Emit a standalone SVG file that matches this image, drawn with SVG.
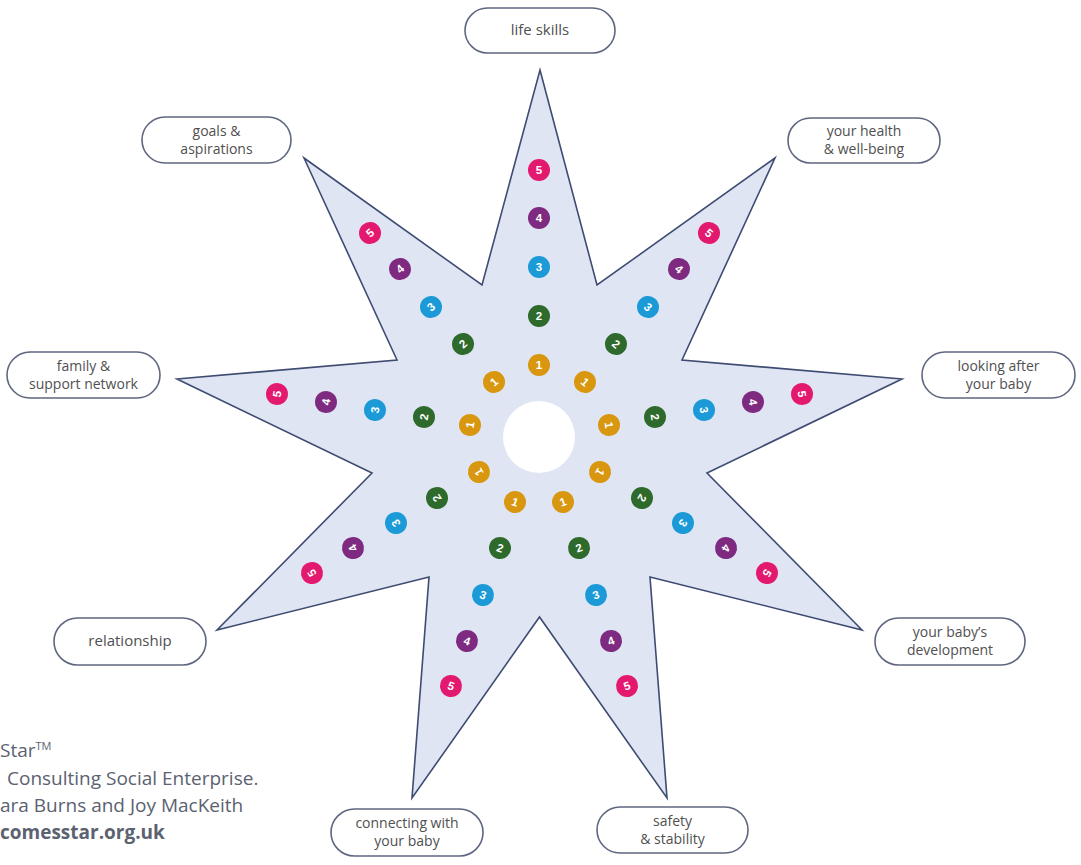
<svg xmlns="http://www.w3.org/2000/svg" width="1081" height="865" viewBox="0 0 1081 865">
<style>
.star{fill:#dfe5f3;stroke:#3e4c72;stroke-width:1.6;stroke-linejoin:miter}
.box{fill:#ffffff;stroke:#5f6680;stroke-width:1.6}
.lbl{font-family:"Open Sans","Liberation Sans",sans-serif;font-size:14px;fill:#505050;text-anchor:middle}
.one{font-size:15px}
.num{font-family:"Liberation Sans","DejaVu Sans",sans-serif;font-size:11.5px;font-weight:bold;fill:#ffffff;text-anchor:middle}
.c1{fill:#d8970f}.c2{fill:#2e6a2c}.c3{fill:#1b9ad7}.c4{fill:#7d2a80}.c5{fill:#e3196f}
.foot{font-family:"Open Sans","Liberation Sans",sans-serif;font-size:19px;fill:#5b6270}
</style>
<rect width="1081" height="865" fill="#ffffff"/>
<g id="star">
<polygon class="star" points="540,70 597,285 775,158 682,360 902,379 707,473 862,630 650,577 667,798 539.5,617 412,798 429,577 217,630 372,473 177,379 397,360 304,158 482,285"/>
<circle cx="539" cy="437" r="36" fill="#ffffff"/>
</g>
<g id="scale-points">
<g id="arm-life-skills">
<g transform="translate(539,365)"><circle class="c1" r="11"/><text class="num" y="4">1</text></g>
<g transform="translate(539,316)"><circle class="c2" r="11"/><text class="num" y="4">2</text></g>
<g transform="translate(539,267)"><circle class="c3" r="11"/><text class="num" y="4">3</text></g>
<g transform="translate(539,218)"><circle class="c4" r="11"/><text class="num" y="4">4</text></g>
<g transform="translate(539,170)"><circle class="c5" r="11"/><text class="num" y="4">5</text></g>
</g>
<g id="arm-health">
<g transform="translate(585,382) rotate(41)"><circle class="c1" r="11"/><text class="num" y="4">1</text></g>
<g transform="translate(616,344) rotate(41)"><circle class="c2" r="11"/><text class="num" y="4">2</text></g>
<g transform="translate(648,307) rotate(41)"><circle class="c3" r="11"/><text class="num" y="4">3</text></g>
<g transform="translate(679,269) rotate(41)"><circle class="c4" r="11"/><text class="num" y="4">4</text></g>
<g transform="translate(709,233) rotate(41)"><circle class="c5" r="11"/><text class="num" y="4">5</text></g>
</g>
<g id="arm-looking-after">
<g transform="translate(609,425) rotate(81)"><circle class="c1" r="11"/><text class="num" y="4">1</text></g>
<g transform="translate(655,417) rotate(81)"><circle class="c2" r="11"/><text class="num" y="4">2</text></g>
<g transform="translate(704,410) rotate(81)"><circle class="c3" r="11"/><text class="num" y="4">3</text></g>
<g transform="translate(753,402) rotate(81)"><circle class="c4" r="11"/><text class="num" y="4">4</text></g>
<g transform="translate(802,394) rotate(81)"><circle class="c5" r="11"/><text class="num" y="4">5</text></g>
</g>
<g id="arm-development">
<g transform="translate(600,472) rotate(121)"><circle class="c1" r="11"/><text class="num" y="4">1</text></g>
<g transform="translate(642,498) rotate(121)"><circle class="c2" r="11"/><text class="num" y="4">2</text></g>
<g transform="translate(683,523) rotate(121)"><circle class="c3" r="11"/><text class="num" y="4">3</text></g>
<g transform="translate(726,548) rotate(121)"><circle class="c4" r="11"/><text class="num" y="4">4</text></g>
<g transform="translate(767,573) rotate(121)"><circle class="c5" r="11"/><text class="num" y="4">5</text></g>
</g>
<g id="arm-safety">
<g transform="translate(563,502) rotate(-19)"><circle class="c1" r="11"/><text class="num" y="4">1</text></g>
<g transform="translate(579,548) rotate(-19)"><circle class="c2" r="11"/><text class="num" y="4">2</text></g>
<g transform="translate(596,595) rotate(-19)"><circle class="c3" r="11"/><text class="num" y="4">3</text></g>
<g transform="translate(611,641) rotate(-19)"><circle class="c4" r="11"/><text class="num" y="4">4</text></g>
<g transform="translate(627,686) rotate(-19)"><circle class="c5" r="11"/><text class="num" y="4">5</text></g>
</g>
<g id="arm-connecting">
<g transform="translate(515,502) rotate(19)"><circle class="c1" r="11"/><text class="num" y="4">1</text></g>
<g transform="translate(500,548) rotate(19)"><circle class="c2" r="11"/><text class="num" y="4">2</text></g>
<g transform="translate(483,595) rotate(19)"><circle class="c3" r="11"/><text class="num" y="4">3</text></g>
<g transform="translate(467,641) rotate(19)"><circle class="c4" r="11"/><text class="num" y="4">4</text></g>
<g transform="translate(451,686) rotate(19)"><circle class="c5" r="11"/><text class="num" y="4">5</text></g>
</g>
<g id="arm-relationship">
<g transform="translate(479,472) rotate(-121)"><circle class="c1" r="11"/><text class="num" y="4">1</text></g>
<g transform="translate(437,498) rotate(-121)"><circle class="c2" r="11"/><text class="num" y="4">2</text></g>
<g transform="translate(396,523) rotate(-121)"><circle class="c3" r="11"/><text class="num" y="4">3</text></g>
<g transform="translate(353,548) rotate(-121)"><circle class="c4" r="11"/><text class="num" y="4">4</text></g>
<g transform="translate(312,573) rotate(-121)"><circle class="c5" r="11"/><text class="num" y="4">5</text></g>
</g>
<g id="arm-family">
<g transform="translate(470,425) rotate(-81)"><circle class="c1" r="11"/><text class="num" y="4">1</text></g>
<g transform="translate(424,417) rotate(-81)"><circle class="c2" r="11"/><text class="num" y="4">2</text></g>
<g transform="translate(375,410) rotate(-81)"><circle class="c3" r="11"/><text class="num" y="4">3</text></g>
<g transform="translate(326,402) rotate(-81)"><circle class="c4" r="11"/><text class="num" y="4">4</text></g>
<g transform="translate(277,394) rotate(-81)"><circle class="c5" r="11"/><text class="num" y="4">5</text></g>
</g>
<g id="arm-goals">
<g transform="translate(494,382) rotate(-41)"><circle class="c1" r="11"/><text class="num" y="4">1</text></g>
<g transform="translate(463,344) rotate(-41)"><circle class="c2" r="11"/><text class="num" y="4">2</text></g>
<g transform="translate(431,307) rotate(-41)"><circle class="c3" r="11"/><text class="num" y="4">3</text></g>
<g transform="translate(400,269) rotate(-41)"><circle class="c4" r="11"/><text class="num" y="4">4</text></g>
<g transform="translate(370,233) rotate(-41)"><circle class="c5" r="11"/><text class="num" y="4">5</text></g>
</g>
</g>
<g id="node-life-skills">
<rect class="box" x="465" y="8" width="150" height="45" rx="22.5"/>
<text class="lbl one" x="540" y="35">life skills</text>
</g>
<g id="node-goals">
<rect class="box" x="142" y="117" width="149" height="46" rx="23"/>
<text class="lbl" x="216.5" y="136">goals &amp;</text>
<text class="lbl" x="216.5" y="154">aspirations</text>
</g>
<g id="node-health">
<rect class="box" x="788" y="118" width="152" height="45" rx="22.5"/>
<text class="lbl" x="864" y="136">your health</text>
<text class="lbl" x="864" y="154">&amp; well-being</text>
</g>
<g id="node-family">
<rect class="box" x="7" y="352" width="153" height="46" rx="23"/>
<text class="lbl" x="83.5" y="371">family &amp;</text>
<text class="lbl" x="83.5" y="389">support network</text>
</g>
<g id="node-looking-after">
<rect class="box" x="922" y="352" width="153" height="46" rx="23"/>
<text class="lbl" x="998.5" y="371">looking after</text>
<text class="lbl" x="998.5" y="389">your baby</text>
</g>
<g id="node-relationship">
<rect class="box" x="54" y="618" width="152" height="47" rx="23.5"/>
<text class="lbl one" x="130" y="646">relationship</text>
</g>
<g id="node-development">
<rect class="box" x="875" y="618" width="150" height="47" rx="23.5"/>
<text class="lbl" x="950" y="637">your baby’s</text>
<text class="lbl" x="950" y="655">development</text>
</g>
<g id="node-connecting">
<rect class="box" x="331" y="809" width="152" height="47" rx="23.5"/>
<text class="lbl" x="407" y="828">connecting with</text>
<text class="lbl" x="407" y="846">your baby</text>
</g>
<g id="node-safety">
<rect class="box" x="597" y="807" width="151" height="46" rx="23"/>
<text class="lbl" x="672.5" y="826">safety</text>
<text class="lbl" x="672.5" y="844">&amp; stability</text>
</g>
<g id="footer">
<text class="foot" x="0" y="757">Star<tspan font-size="11" dy="-7">TM</tspan></text>
<text class="foot" x="7" y="785">Consulting Social Enterprise.</text>
<text class="foot" x="0" y="812">ara Burns and Joy MacKeith</text>
<text class="foot" x="0" y="839" font-weight="bold">comesstar.org.uk</text>
</g>
</svg>
